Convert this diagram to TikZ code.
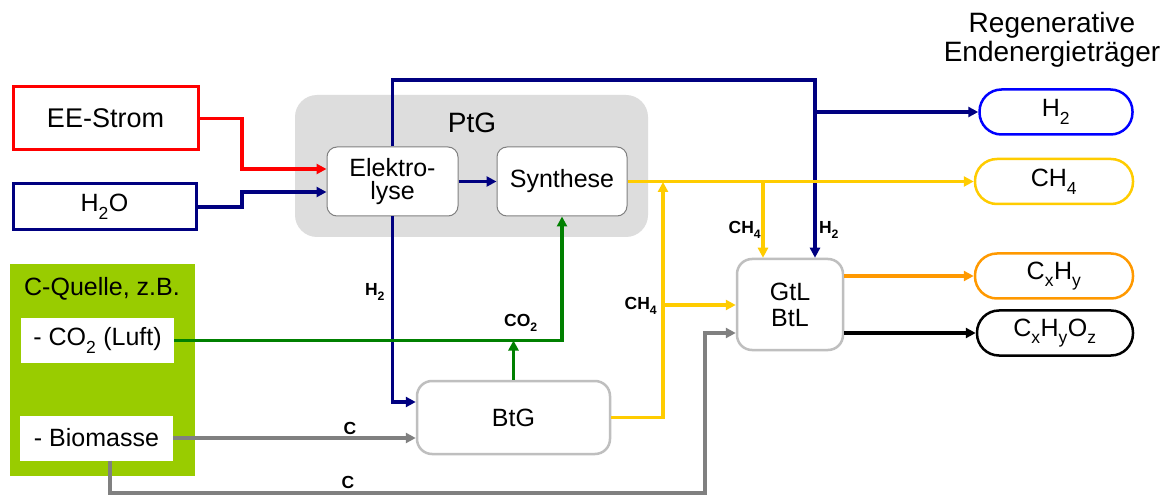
\documentclass[tikz,border=0pt]{standalone}
\usepackage{fontspec}
\setmainfont{Liberation Sans}
\usetikzlibrary{arrows.meta,calc}
\definecolor{navy}{HTML}{000080}
\definecolor{eered}{HTML}{FF0000}
\definecolor{cgreen}{HTML}{008000}
\definecolor{cyellow}{HTML}{FFCC00}
\definecolor{cgray}{HTML}{808080}
\definecolor{corange}{HTML}{FF9900}
\definecolor{lime}{HTML}{99CC00}
\definecolor{ptggray}{HTML}{DDDDDD}
\definecolor{boxgray}{HTML}{BFBFBF}
\definecolor{obblue}{HTML}{0000FF}
\newcommand{\fsz}[1]{\fontsize{#1}{#1}\selectfont}
\newcommand{\sbs}[1]{\raisebox{-0.3ex}{\textsubscript{#1}}}
\begin{document}
\begin{tikzpicture}[x=1pt,y=-1pt,
  flow/.style={line width=3.2pt},
  tip/.style={-{Triangle[length=10pt,width=10pt]}},
  srcbox/.style={draw,line width=3pt,fill=white,minimum width=#1,inner sep=0pt,font=\fsz{27}},
  procA/.style={draw=cgray,line width=1pt,fill=white,rounded corners=10pt,inner sep=0pt,font=\fsz{25},align=center},
  procB/.style={draw=boxgray,line width=2.5pt,fill=white,rounded corners=15pt,inner sep=0pt,font=\fsz{25},align=center},
  pill/.style={draw,line width=2.5pt,fill=white,rounded corners=22pt,minimum width=155pt,minimum height=45pt,inner sep=0pt,font=\fsz{25}},
  wbox/.style={fill=white,minimum width=153pt,minimum height=45pt,inner sep=0pt,font=\fsz{25}},
  lbl/.style={font=\fsz{17.5}\bfseries,inner sep=0pt}]
\useasboundingbox[fill=white] (0,0) rectangle (1171,497);

% --- boxes
\node[srcbox=185pt,draw=eered,minimum height=63pt] (ee) at (105.5,118.5) {EE-Strom};
\node[srcbox=183pt,draw=navy,minimum height=46pt,font=\fsz{25}] (h2o) at (104.5,207) {H\sbs{2}O};

\node[fill=ptggray,rounded corners=22pt,minimum width=353pt,minimum height=142pt,inner sep=0pt] (ptg) at (471.5,166) {};
\node[font=\fsz{28},inner sep=0pt] (ptglbl) at (472,123) {PtG};
\node[procA,minimum width=131pt,minimum height=69pt] (elek) at (392.5,181.5) {Elektro-\\[-2pt]lyse};
\node[procA,minimum width=130pt,minimum height=69pt] (syn) at (562,181.5) {Synthese};

\node[procB,minimum width=106pt,minimum height=91pt] (gtl) at (790,304.5) {GtL\\[1pt]BtL};
\node[procB,minimum width=193pt,minimum height=73pt] (btg) at (513.5,417.5) {BtG};

\node[fill=lime,minimum width=185pt,minimum height=212pt,inner sep=0pt] (cq) at (102.5,370) {};
\node[font=\fsz{25},inner sep=0pt] (cqlbl) at (102,289) {C-Quelle, z.B.};
\node[wbox] (co2) at (97.5,340.5) {- CO\sbs{2} (Luft)};
\node[wbox] (bio) at (96.5,438) {- Biomasse};

\node[font=\fsz{28},align=center,inner sep=0pt] (title) at (1052,40) {Regenerative\\[1pt]Endenergietr\"ager};
\node[pill,draw=obblue,minimum width=153pt] (oh2) at (1056,112) {H\sbs{2}};
\node[pill,draw=cyellow,minimum width=158pt] (och4) at (1054,181.5) {CH\sbs{4}};
\node[pill,draw=corange,minimum width=158pt] (ocxhy) at (1054,276) {C\sbs{x}H\sbs{y}};
\node[pill,draw=black,minimum width=156pt] (ocxhyoz) at (1055,333) {C\sbs{x}H\sbs{y}O\sbs{z}};

% --- connectors
\draw[flow,tip,eered] (ee.east) -- (242,118.5) |- (elek.west |- 0,169);
\draw[flow,tip,navy] (h2o.east) -- (242,207) |- (elek.west |- 0,192);
\draw[flow,tip,navy] (elek.east) -- (syn.west);

% H2 from electrolysis upward
\draw[flow,tip,navy] (elek.north) |- (815,80) -- ([xshift=25pt]gtl.north);
\draw[flow,tip,navy] (815,112) -- (oh2.west);
% H2 downward to BtG
\draw[flow,tip,navy] (elek.south) -- (392.5,402) -- (btg.west |- 0,402);

% CH4
\draw[flow,tip,cyellow] (syn.east) -- (och4.west);
\draw[flow,tip,cyellow] (763,181.5) -- ([xshift=-27pt]gtl.north);
\draw[flow,tip,cyellow] (btg.east) -- (663,417.5) -- (663,182);
\draw[flow,tip,cyellow] (663,305) -- (gtl.west |- 0,305);

% outputs of GtL
\draw[flow,tip,corange] (gtl.east |- 0,276) -- (ocxhy.west);
\draw[flow,tip,black] (gtl.east |- 0,333) -- (ocxhyoz.west);

% CO2
\draw[flow,tip,cgreen] (co2.east) -| (syn.south);
\draw[flow,tip,cgreen] (btg.north) -- (btg.north |- co2.east);

% C (biomass)
\draw[flow,tip,cgray] (bio.east) -- (btg.west |- bio.east);
\draw[flow,tip,cgray] ([xshift=13.5pt]bio.south) -- (110,493) -| (705,333) -- (gtl.west |- 0,333);

% --- labels
\node[lbl] (l1) at (375,292) {H\sbs{2}};
\node[lbl] (l2) at (521,323) {CO\sbs{2}};
\node[lbl] (l3) at (641,306) {CH\sbs{4}};
\node[lbl] (l4) at (745,230) {CH\sbs{4}};
\node[lbl] (l5) at (829,230) {H\sbs{2}};
\node[lbl] (l6) at (350,428) {C};
\node[lbl] (l7) at (348,482) {C};
\end{tikzpicture}
\end{document}
